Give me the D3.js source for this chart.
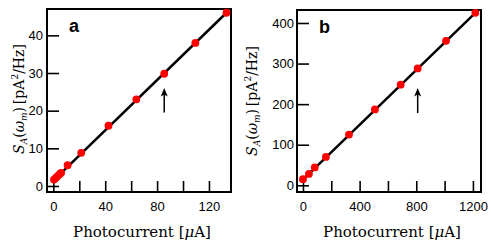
<!DOCTYPE html>
<html>
<head>
<meta charset="utf-8">
<script src="https://cdn.jsdelivr.net/npm/d3@7"></script>
<style>
  body { margin: 0; background: #fff; }
  svg { display: block; }
</style>
</head>
<body>
<div id="chart"></div>
<script>
// panel a: photocurrent [uA] vs S_A [pA^2/Hz]
const currentA = [0.5, 2, 3.5, 5, 6, 11, 21.5, 42.5, 64, 85.5, 109.5, 133.5];
const noiseA   = [1.7, 2.2, 2.7, 3.2, 3.5, 5.5, 8.8, 16, 23, 29.8, 38, 46];
const fitA     = [[0, 1.4], [133.5, 46]];
const arrowA   = [85.5, 19.5, 26];
const xTicksA  = [0, 20, 40, 60, 80, 100, 120];
const yTicksA  = [0, 10, 20, 30, 40];

// panel b
const currentB = [0, 42, 83, 162, 325, 508, 690, 810, 1010, 1217];
const noiseB   = [15, 28, 44, 70, 125, 187, 248, 288, 356, 425];
const fitB     = [[0, 14], [1217, 425]];
const arrowB   = [810, 178, 240];
const xTicksB  = [0, 200, 400, 600, 800, 1000, 1200];
const yTicksB  = [0, 100, 200, 300, 400];

const width = 491, height = 245;

const svg = d3.select("#chart")
    .append("svg")
    .attr("width", width)
    .attr("height", height);

function drawPanel(p) {
    const x = d3.scaleLinear().domain(p.xDomain).range([p.left, p.right]);
    const y = d3.scaleLinear().domain(p.yDomain).range([p.bottom, p.top]);
    const g = svg.append("g");

    // axes with inward ticks
    const xAxis = g.append("g")
        .attr("transform", `translate(0,${p.bottom})`)
        .call(d3.axisBottom(x)
            .tickValues(p.xTicks)
            .tickSize(-11)
            .tickPadding(10)
            .tickFormat(d => d % p.xLabelStep === 0 ? d : ""));
    const yAxis = g.append("g")
        .attr("transform", `translate(${p.left},0)`)
        .call(d3.axisLeft(y)
            .tickValues(p.yTicks)
            .tickSize(-12)
            .tickPadding(p.yPad));

    [xAxis, yAxis].forEach(a => {
        a.select(".domain").remove();
        a.selectAll(".tick line").attr("stroke", "#000").attr("stroke-width", 1.6);
        a.selectAll(".tick text")
            .attr("fill", "#000")
            .style("font-family", "'Liberation Sans', Arial, sans-serif")
            .style("font-size", "13px");
    });

    // frame
    g.append("rect")
        .attr("x", p.left)
        .attr("y", p.top)
        .attr("width", p.right - p.left)
        .attr("height", p.bottom - p.top)
        .attr("fill", "none")
        .attr("stroke", "#000")
        .attr("stroke-width", 2);

    // fit line
    g.append("path")
        .datum(p.fit)
        .attr("fill", "none")
        .attr("stroke", "#000")
        .attr("stroke-width", 2.5)
        .attr("d", d3.line().x(d => x(d[0])).y(d => y(d[1])));

    // data points
    g.append("g")
        .selectAll("circle")
        .data(p.xs.map((v, i) => [v, p.ys[i]]))
        .join("circle")
        .attr("cx", d => x(d[0]))
        .attr("cy", d => y(d[1]))
        .attr("r", 3.9)
        .attr("fill", "#ff0000");

    // arrow
    const ax = x(p.arrow[0]), ay0 = y(p.arrow[1]), ay1 = y(p.arrow[2]);
    g.append("line")
        .attr("x1", ax).attr("x2", ax)
        .attr("y1", ay0).attr("y2", ay1 + 5)
        .attr("stroke", "#000")
        .attr("stroke-width", 1.5);
    g.append("path")
        .attr("d", `M${ax},${ay1} L${ax - 3.5},${ay1 + 8.5} L${ax},${ay1 + 6.5} L${ax + 3.5},${ay1 + 8.5} Z`)
        .attr("fill", "#000");

    // panel letter
    g.append("text")
        .attr("x", p.left + 22)
        .attr("y", p.top + 23)
        .style("font-family", "'Liberation Sans', Arial, sans-serif")
        .style("font-weight", "bold")
        .style("font-size", "18px")
        .text(p.label);

    // x title
    const xt = g.append("text")
        .attr("x", (p.left + p.right) / 2 + 3)
        .attr("y", 237)
        .attr("text-anchor", "middle")
        .style("font-family", "'DejaVu Serif', serif")
        .style("font-size", "15px");
    xt.append("tspan").text("Photocurrent [");
    xt.append("tspan").style("font-style", "italic").text("\u03bc");
    xt.append("tspan").text("A]");

    // y title, centred on the plot height
    const yt = g.append("text")
        .style("font-family", "'DejaVu Serif', serif")
        .style("font-size", "14px");
    yt.append("tspan").style("font-style", "italic").text("S");
    yt.append("tspan").style("font-style", "italic").style("font-size", "9px").attr("dy", 3).text("A");
    yt.append("tspan").attr("dy", -3).text("(");
    yt.append("tspan").style("font-style", "italic").text("\u03c9");
    yt.append("tspan").style("font-style", "italic").style("font-size", "9px").attr("dy", 3).text("m");
    yt.append("tspan").attr("dy", -3).text(")\u2009[pA");
    yt.append("tspan").style("font-size", "9px").attr("dy", -6).text("2");
    yt.append("tspan").attr("dy", 6).text("/Hz]");
    const len = yt.node().getComputedTextLength();
    yt.attr("transform", `translate(${p.yTitleX},${p.yTitleMid + len / 2}) rotate(-90)`);
}

drawPanel({
    label: "a", xs: currentA, ys: noiseA, fit: fitA, arrow: arrowA,
    xTicks: xTicksA, yTicks: yTicksA, xLabelStep: 40,
    xDomain: [-4.9, 137], yDomain: [-1.6, 47],
    left: 47, right: 231, top: 9, bottom: 192, yPad: 4,
    yTitleX: 24, yTitleMid: 99
});

drawPanel({
    label: "b", xs: currentB, ys: noiseB, fit: fitB, arrow: arrowB,
    xTicks: xTicksB, yTicks: yTicksB, xLabelStep: 400,
    xDomain: [-42, 1257], yDomain: [-16.5, 432],
    left: 297, right: 481, top: 10, bottom: 192, yPad: 3,
    yTitleX: 257, yTitleMid: 101
});
</script>
</body>
</html>
